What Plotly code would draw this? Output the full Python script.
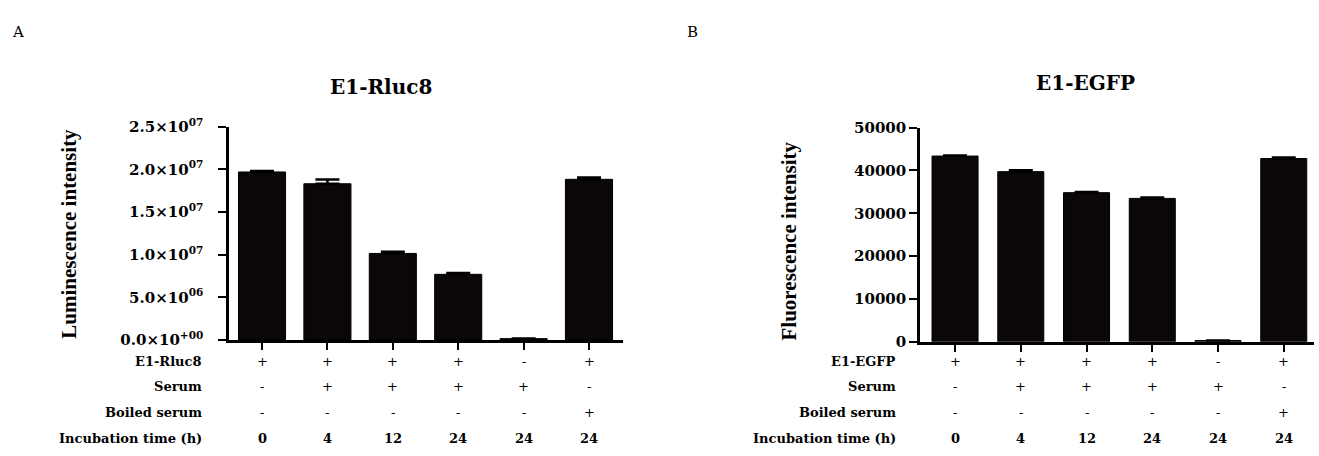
import plotly.graph_objects as go

W, H = 1319, 456

# ---- data ----
positions = [0, 1, 2, 3, 4, 5]

rluc_values = [1.969e7, 1.831e7, 1.014e7, 7.69e6, 1.5e5, 1.883e7]
rluc_errors = [1.0e5, 5.0e5, 2.0e5, 1.5e5, 2.0e4, 2.0e5]

egfp_values = [43370, 39732, 34821, 33482, 300, 42783]
egfp_errors = [100, 350, 150, 200, 30, 250]

row_labels_a = ["E1-Rluc8", "Serum", "Boiled serum", "Incubation time (h)"]
row_labels_b = ["E1-EGFP", "Serum", "Boiled serum", "Incubation time (h)"]
row_construct = ["+", "+", "+", "+", "-", "+"]
row_serum = ["-", "+", "+", "+", "+", "-"]
row_boiled = ["-", "-", "-", "-", "-", "+"]
row_time = ["0", "4", "12", "24", "24", "24"]

rluc_tickvals = [0, 5e6, 1e7, 1.5e7, 2e7, 2.5e7]
rluc_ticktext = ["0.0×10<sup>+00</sup>", "5.0×10<sup>06</sup>", "1.0×10<sup>07</sup>",
                 "1.5×10<sup>07</sup>", "2.0×10<sup>07</sup>", "2.5×10<sup>07</sup>"]
egfp_tickvals = [0, 10000, 20000, 30000, 40000, 50000]
egfp_ticktext = ["0", "10000", "20000", "30000", "40000", "50000"]

BAR = "#0b0707"
HFONT = "DejaVu Serif"
VFONT = "Liberation Serif"


def px(x):
    return x / W


def py(y):
    return 1 - y / H


fig = go.Figure()

fig.add_trace(go.Bar(
    x=positions, y=rluc_values, width=0.72,
    marker=dict(color=BAR, line=dict(color="black", width=1)),
    error_y=dict(type="data", array=rluc_errors, arrayminus=[0] * 6, symmetric=False,
                 color="black", thickness=2.5, width=12),
    xaxis="x", yaxis="y", showlegend=False,
))
fig.add_trace(go.Bar(
    x=positions, y=egfp_values, width=0.70,
    marker=dict(color=BAR, line=dict(color="black", width=1)),
    error_y=dict(type="data", array=egfp_errors, arrayminus=[0] * 6, symmetric=False,
                 color="black", thickness=2.5, width=12),
    xaxis="x2", yaxis="y2", showlegend=False,
))

common_x = dict(showgrid=False, zeroline=False, showline=True, linecolor="black", linewidth=2.5,
                ticks="outside", ticklen=7, tickwidth=2, tickcolor="black",
                showticklabels=False, tickvals=positions)
common_y = dict(showgrid=False, zeroline=False, showline=True, linecolor="black", linewidth=2.5,
                ticks="outside", ticklen=8, tickwidth=2, tickcolor="black",
                tickfont=dict(family=HFONT, size=15, color="black", weight="bold"))

fig.update_layout(
    width=W, height=H,
    margin=dict(l=0, r=0, t=0, b=0),
    paper_bgcolor="white", plot_bgcolor="white",
    xaxis=dict(domain=[px(229), px(623)], range=[-0.505, 5.52], anchor="y", **common_x),
    yaxis=dict(domain=[py(344), py(121)], range=[0, 2.5e7], anchor="x",
               tickvals=rluc_tickvals, ticktext=rluc_ticktext, ticklabelstandoff=12, **common_y),
    xaxis2=dict(domain=[px(920), px(1314)], range=[-0.533, 5.46], anchor="y2", **common_x),
    yaxis2=dict(domain=[py(346), py(122)], range=[0, 50000], anchor="x2",
                tickvals=egfp_tickvals, ticktext=egfp_ticktext, ticklabelstandoff=0, **common_y),
)

ann = []


def text_at(text, x, y, size, family=HFONT, xref="paper", xanchor="center", angle=0):
    ann.append(dict(text=text, x=x, y=y, xref=xref, yref="paper", showarrow=False,
                    xanchor=xanchor, yanchor="middle", textangle=angle,
                    font=dict(family=family, size=size, color="black")))


# panel letters
text_at("A", px(18), py(22), 15)
text_at("B", px(692), py(22), 15)
# titles
text_at("<b>E1-Rluc8</b>", px(381), py(80), 20)
text_at("<b>E1-EGFP</b>", px(1085), py(75), 20)
# y titles
text_at("<b>Luminescence intensity</b>", px(69), py(233), 21, family=VFONT, angle=-90)
text_at("<b>Fluorescence intensity</b>", px(789), py(240), 21, family=VFONT, angle=-90)

row_ys = [367, 393, 420, 447]
rows = [row_construct, row_serum, row_boiled, row_time]
for labels, xref, xlab in [(row_labels_a, "x", 204), (row_labels_b, "x2", 898)]:
    for lab, ry, vals in zip(labels, row_ys, rows):
        text_at("<b>" + lab + "</b>", px(xlab), py(ry), 13, xanchor="right")
        for p, v in zip(positions, vals):
            txt = v if v in ("+", "-") else "<b>" + v + "</b>"
            text_at(txt, p, py(ry), 13, xref=xref)

fig.update_layout(annotations=ann)
fig.write_html("out.html", config={"displayModeBar": False},
               post_script="document.body.style.margin='0';document.body.style.overflow='hidden';")
